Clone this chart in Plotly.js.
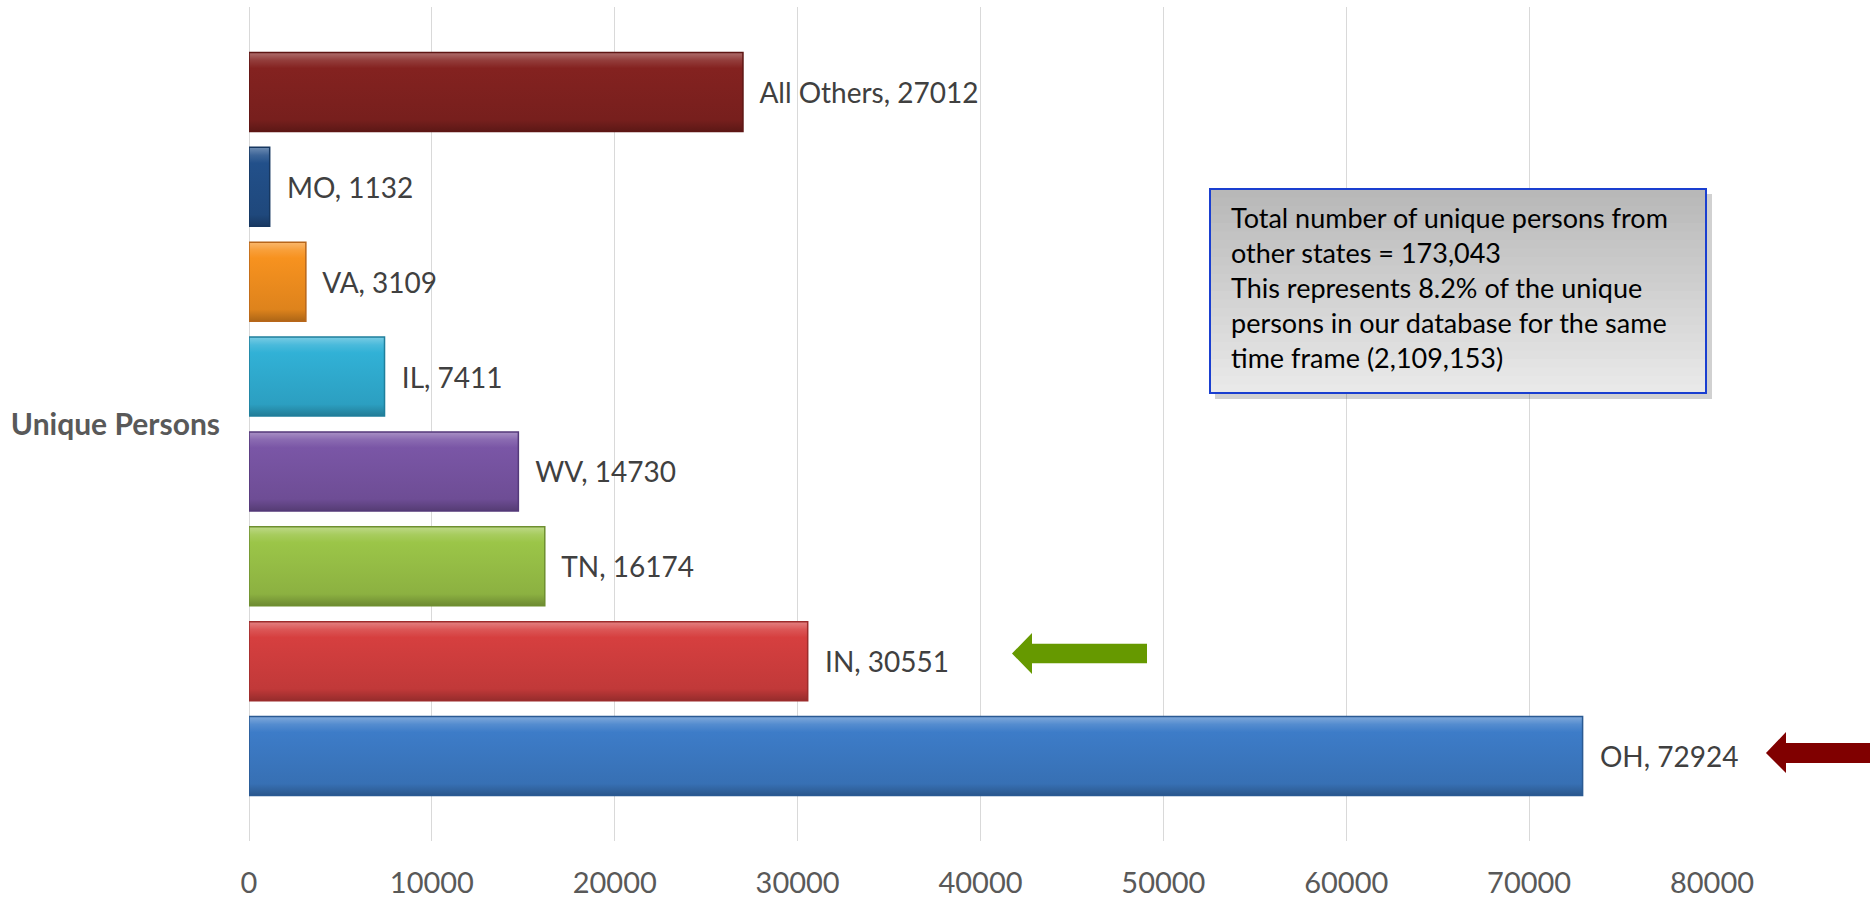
<!DOCTYPE html>
<html>
<head>
<meta charset="utf-8">
<script src="https://cdn.plot.ly/plotly-3.0.1.min.js"></script>
<style>
  html, body { margin: 0; padding: 0; background: #ffffff; }
  #chart { width: 1870px; height: 899px; }
</style>
</head>
<body>
<div id="chart"></div>
<script>
// ---- data ----
const category = ['Unique Persons'];
const states = ['OH', 'IN', 'TN', 'WV', 'IL', 'VA', 'MO', 'All Others'];
const persons = [72924, 30551, 16174, 14730, 7411, 3109, 1132, 27012];
const xTickVals = [0, 10000, 20000, 30000, 40000, 50000, 60000, 70000, 80000];
const noteLines = [
  'Total number of unique persons from',
  'other states = 173,043',
  'This represents 8.2% of the unique',
  'persons in our database for the same',
  'time frame (2,109,153)'
];

// ---- styles ----
const barColors = ['#3d7cc8', '#d63f3f', '#9bc548', '#7a56a6', '#31b1d6', '#f7921f', '#22508a', '#842220'];
const edgeColors = ['#2a5a93', '#9c2c2c', '#6e8f30', '#54397a', '#1f7f9c', '#b8661a', '#163760', '#5e1614'];
const FONT = 'Lato, "Open Sans", "Liberation Sans", sans-serif';

const W = 1870, H = 899;
const plotL = 249, plotR = 1712, plotT = 7, plotB = 841;
const px = x => (x - plotL) / (plotR - plotL);
const py = y => (plotB - y) / (plotB - plotT);

const traces = states.map((s, i) => ({
  type: 'bar',
  orientation: 'h',
  name: s,
  y: category,
  x: [persons[i]],
  text: ['\u00a0\u00a0' + s + ', ' + persons[i]],
  textposition: 'outside',
  constraintext: 'none',
  cliponaxis: false,
  textfont: { family: FONT, size: 28, color: '#404040' },
  marker: { color: barColors[i], line: { color: edgeColors[i], width: 1.5 } },
  hoverinfo: 'x+name'
}));

function pathFrom(pts) {
  return 'M' + pts.map(p => px(p[0]).toFixed(5) + ',' + py(p[1]).toFixed(5)).join(' L') + ' Z';
}

const greenArrow = pathFrom([[1012, 653.5], [1032, 633], [1032, 643.7], [1147, 643.7], [1147, 663.3], [1032, 663.3], [1032, 674]]);
const redArrow = pathFrom([[1766, 753], [1786, 732], [1786, 743], [1875, 743], [1875, 763], [1786, 763], [1786, 773]]);

// note box with vertical gray gradient emulated by bands
const boxL = 1210, boxR = 1706, boxT = 189, boxB = 393;
const shapes = [];
shapes.push({
  type: 'rect', xref: 'paper', yref: 'paper', layer: 'above',
  x0: px(boxL + 5), x1: px(boxR + 6), y0: py(boxB + 6), y1: py(boxT + 5),
  fillcolor: 'rgba(0,0,0,0.18)', line: { width: 0 }
});
const nBands = 24;
for (let k = 0; k < nBands; k++) {
  const t = k / (nBands - 1);
  const g = Math.round(184 + (233 - 184) * t);
  const y0 = boxT + (boxB - boxT) * k / nBands;
  const y1 = boxT + (boxB - boxT) * (k + 1) / nBands;
  shapes.push({
    type: 'rect', xref: 'paper', yref: 'paper', layer: 'above',
    x0: px(boxL), x1: px(boxR), y0: py(y1 + 0.5), y1: py(y0),
    fillcolor: 'rgb(' + g + ',' + g + ',' + g + ')', line: { width: 0 }
  });
}
shapes.push({
  type: 'rect', xref: 'paper', yref: 'paper', layer: 'above',
  x0: px(boxL), x1: px(boxR), y0: py(boxB), y1: py(boxT),
  fillcolor: 'rgba(0,0,0,0)', line: { color: '#1a3fd0', width: 2 }
});
shapes.push({ type: 'path', xref: 'paper', yref: 'paper', layer: 'above', path: greenArrow, fillcolor: '#669900', line: { width: 0 } });
shapes.push({ type: 'path', xref: 'paper', yref: 'paper', layer: 'above', path: redArrow, fillcolor: '#800000', line: { width: 0 } });

const layout = {
  width: W, height: H,
  margin: { l: plotL, r: W - plotR, t: plotT, b: H - plotB, pad: 0 },
  paper_bgcolor: '#ffffff', plot_bgcolor: '#ffffff',
  showlegend: false,
  barmode: 'group',
  bargap: 0.09,
  bargroupgap: 0.167,
  font: { family: FONT, color: '#595959' },
  xaxis: {
    range: [0, 80000],
    tickvals: xTickVals,
    ticktext: xTickVals.map(String),
    showgrid: true, gridcolor: '#d9d9d9', gridwidth: 1,
    zeroline: true, zerolinecolor: '#d9d9d9', zerolinewidth: 1,
    showline: false, ticks: '',
    tickfont: { family: FONT, size: 29, color: '#595959' },
    ticklabelstandoff: 22,
    fixedrange: true
  },
  yaxis: {
    type: 'category',
    showgrid: false, zeroline: false, showline: false, ticks: '',
    tickfont: { family: FONT, size: 30, color: '#595959', weight: 'bold' },
    ticklabelstandoff: 28,
    fixedrange: true
  },
  shapes: shapes,
  annotations: [{
    xref: 'paper', yref: 'paper',
    x: px(1229), y: py(287.5),
    xanchor: 'left', yanchor: 'middle', align: 'left',
    showarrow: false,
    text: noteLines.join('<br>'),
    font: { family: FONT, size: 27, color: '#000000' }
  }]
};

Plotly.newPlot('chart', traces, layout, { displayModeBar: false, staticPlot: true }).then(gd => {
  // bevel-like vertical shading on each bar
  const svg = gd.querySelector('.main-svg');
  const ns = 'http://www.w3.org/2000/svg';
  let defs = svg.querySelector('defs');
  if (!defs) { defs = document.createElementNS(ns, 'defs'); svg.insertBefore(defs, svg.firstChild); }
  const shade = (hex, f) => {
    const n = parseInt(hex.slice(1), 16);
    let r = (n >> 16) & 255, g = (n >> 8) & 255, b = n & 255;
    if (f >= 0) { r += (255 - r) * f; g += (255 - g) * f; b += (255 - b) * f; }
    else { r *= (1 + f); g *= (1 + f); b *= (1 + f); }
    return 'rgb(' + Math.round(r) + ',' + Math.round(g) + ',' + Math.round(b) + ')';
  };
  gd.querySelectorAll('.barlayer .trace').forEach((tr, i) => {
    const c = barColors[i];
    const lg = document.createElementNS(ns, 'linearGradient');
    lg.setAttribute('id', 'bevel' + i);
    lg.setAttribute('x1', '0'); lg.setAttribute('y1', '0');
    lg.setAttribute('x2', '0'); lg.setAttribute('y2', '1');
    [[0, shade(c, 0.35)], [0.1, shade(c, 0.12)], [0.2, c], [0.85, shade(c, -0.1)], [1, shade(c, -0.3)]].forEach(([o, col]) => {
      const st = document.createElementNS(ns, 'stop');
      st.setAttribute('offset', o); st.setAttribute('stop-color', col);
      lg.appendChild(st);
    });
    defs.appendChild(lg);
    tr.querySelectorAll('path').forEach(p => { p.style.fill = 'url(#bevel' + i + ')'; });
  });
});
</script>
</body>
</html>
